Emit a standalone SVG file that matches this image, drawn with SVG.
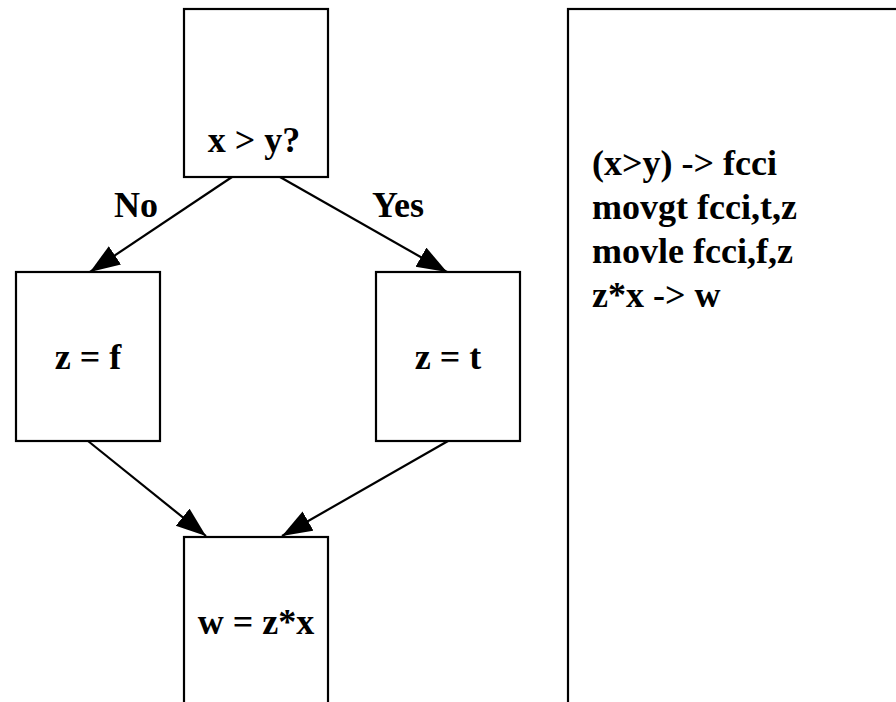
<svg xmlns="http://www.w3.org/2000/svg" width="896" height="702" viewBox="0 0 896 702">
<style>
.box{fill:#fff;stroke:#000;stroke-width:2.2}
.edge{fill:none;stroke:#000;stroke-width:2.2}
text{font-family:"Liberation Serif","Times New Roman",serif;font-weight:bold;font-size:36px;fill:#000}
.c{text-anchor:middle}
</style>
<defs>
<marker id="ah" markerUnits="userSpaceOnUse" markerWidth="32" markerHeight="24" refX="30" refY="11" orient="auto" viewBox="0 0 32 24">
<path d="M0,0 L30,11 L0,22 Z" fill="#000"/>
</marker>
</defs>
<rect width="896" height="702" fill="#fff"/>
<g id="connectors">
<line class="edge" x1="232" y1="177" x2="90" y2="272" marker-end="url(#ah)"/>
<line class="edge" x1="280" y1="177" x2="447" y2="272" marker-end="url(#ah)"/>
<line class="edge" x1="88" y1="441" x2="206" y2="536" marker-end="url(#ah)"/>
<line class="edge" x1="448" y1="441" x2="282" y2="536" marker-end="url(#ah)"/>
<text x="136" y="217" class="c">No</text>
<text x="398" y="217" class="c">Yes</text>
</g>
<g id="n_cond">
<rect class="box" x="184" y="9" width="144" height="168"/>
<text x="254" y="152" class="c">x &gt; y?</text>
</g>
<g id="n_false">
<rect class="box" x="16" y="272" width="144" height="169"/>
<text x="88" y="369" class="c">z = f</text>
</g>
<g id="n_true">
<rect class="box" x="376" y="272" width="144" height="169"/>
<text x="448" y="369" class="c">z = t</text>
</g>
<g id="n_join">
<rect class="box" x="184" y="537" width="144" height="200"/>
<text x="256" y="634" class="c">w = z*x</text>
</g>
<g id="n_code">
<rect class="box" x="568" y="9" width="340" height="720"/>
<text x="592" y="175">(x&gt;y) -&gt; fcci</text>
<text x="592" y="219">movgt fcci,t,z</text>
<text x="592" y="263">movle fcci,f,z</text>
<text x="592" y="307">z*x -&gt; w</text>
</g>
</svg>
